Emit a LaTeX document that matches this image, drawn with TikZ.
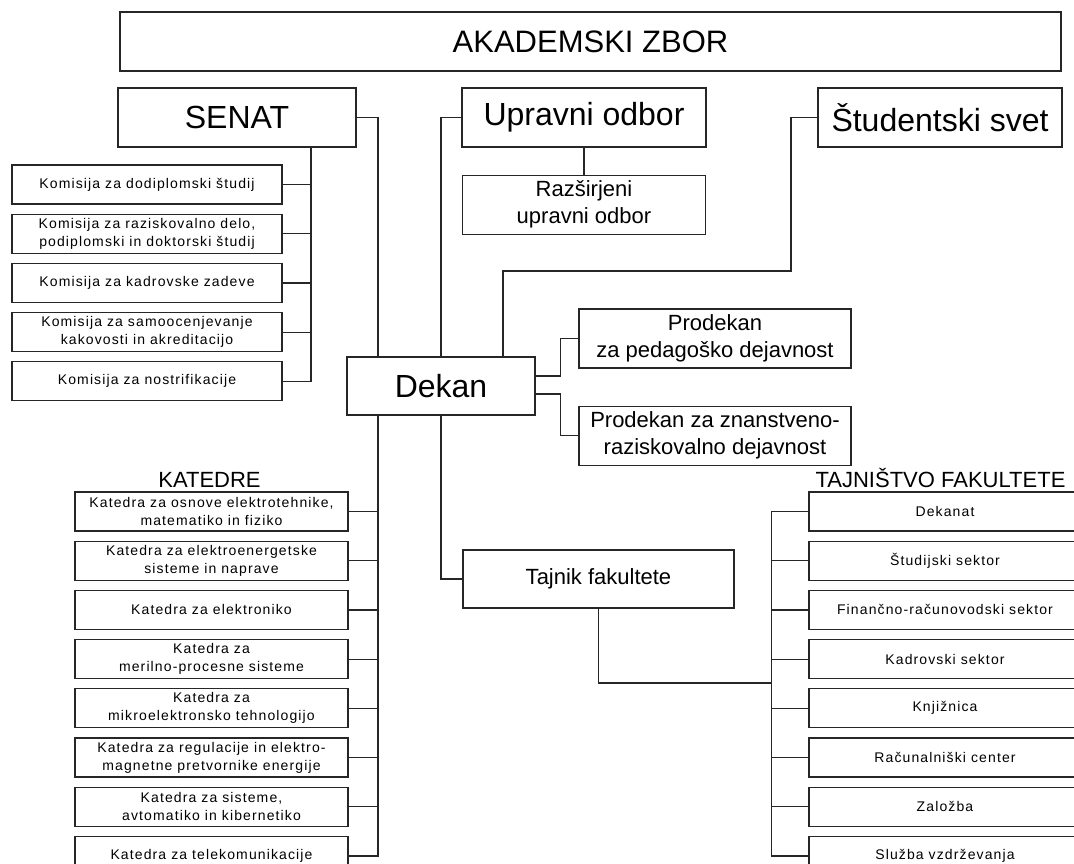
\documentclass[tikz,border=0pt]{standalone}
\usepackage{fontspec}
\setmainfont{Liberation Sans}
\newfontfamily\smallfont[LetterSpace=8]{Liberation Sans}
\usetikzlibrary{positioning}

\begin{document}
\begin{tikzpicture}[
            x = 1pt, y = -1pt, % pixel units, y pointing down
            node distance = 9pt, % gap between stacked boxes
            line width = 1.2pt, % line style
        ]
 \tikzstyle{bigbox}=[
            shape = rectangle,
            draw = black!85,
            fill = white,
            minimum height = 59pt,
            font = \fontsize{32}{38}\selectfont
        ]
 \tikzstyle{midbox}=[
            shape = rectangle,
            draw = black!85,
            fill = white,
            align = center,
            minimum width = 243pt,
            minimum height = 59pt,
            font = \fontsize{22}{27}\selectfont
        ]
 \tikzstyle{smallbox}=[
            shape = rectangle,
            draw = black!85,
            fill = white,
            align = center,
            minimum height = 39pt,
            font = \smallfont\fontsize{14}{18}\selectfont
        ]
 \tikzstyle{kombox}=[smallbox, minimum width = 270pt]
 \tikzstyle{katbox}=[smallbox, minimum width = 273pt]
 \tikzstyle{tajbox}=[smallbox, minimum width = 272pt]
 \tikzstyle{title}=[font = \fontsize{22}{26}\selectfont, anchor = base, inner sep = 0pt]
 \tikzstyle{link}=[draw = black!85, line width = 1.2pt]
\useasboundingbox (0,0) rectangle (1074,864);
\clip (0,0) rectangle (1074,864);
% top level
\node[bigbox, minimum width=941pt, font=\fontsize{31}{37}\selectfont](zbor) at (590.5,41.5){AKADEMSKI ZBOR};
\node[bigbox, minimum width=238pt](senat) at (237,117.5){SENAT};
\node[bigbox, minimum width=244pt](uo) at (584,117.5){Upravni odbor};
\node[bigbox, minimum width=244pt](ss) at (940,117.5){Študentski svet};
\node[midbox, below=27pt of uo](ruo){Razširjeni\\upravni odbor};
% senat commissions
\node[kombox](kom1) at (147,184.5){Komisija za dodiplomski študij};
\node[kombox, below=of kom1](kom2){Komisija za raziskovalno delo,\\podiplomski in doktorski študij};
\node[kombox, below=of kom2](kom3){Komisija za kadrovske zadeve};
\node[kombox, below=of kom3](kom4){Komisija za samoocenjevanje\\kakovosti in akreditacijo};
\node[kombox, below=of kom4](kom5){Komisija za nostrifikacije};
% dean and vice deans
\node[bigbox, minimum width=188pt, minimum height=58pt](dekan) at (441,386){Dekan};
\node[midbox, minimum width=272pt](pd1) at (715,338.5){Prodekan\\za pedagoško dejavnost};
\node[midbox, minimum width=272pt, below=37pt of pd1](pd2){Prodekan za znanstveno-\\raziskovalno dejavnost};
\node[midbox, minimum width=271pt, minimum height=58pt](tajnik) at (598.5,579){Tajnik fakultete};
% departments
\node[title](katedre) at (209.5,487){KATEDRE};
\node[katbox](kat1) at (211.5,511.5){Katedra za osnove elektrotehnike,\\matematiko in fiziko};
\node[katbox, below=of kat1](kat2){Katedra za elektroenergetske\\sisteme in naprave};
\node[katbox, below=of kat2](kat3){Katedra za elektroniko};
\node[katbox, below=of kat3](kat4){Katedra za\\merilno-procesne sisteme};
\node[katbox, below=of kat4](kat5){Katedra za\\mikroelektronsko tehnologijo};
\node[katbox, below=of kat5](kat6){Katedra za regulacije in elektro-\\magnetne pretvornike energije};
\node[katbox, below=of kat6](kat7){Katedra za sisteme,\\avtomatiko in kibernetiko};
\node[katbox, below=of kat7](kat8){Katedra za telekomunikacije};
% secretariat
\node[title](tajnistvo) at (940.5,487){TAJNIŠTVO FAKULTETE};
\node[tajbox](taj1) at (945,511.5){Dekanat};
\node[tajbox, below=of taj1](taj2){Študijski sektor};
\node[tajbox, below=of taj2](taj3){Finančno-računovodski sektor};
\node[tajbox, below=of taj3](taj4){Kadrovski sektor};
\node[tajbox, below=of taj4](taj5){Knjižnica};
\node[tajbox, below=of taj5](taj6){Računalniški center};
\node[tajbox, below=of taj6](taj7){Založba};
\node[tajbox, below=of taj7](taj8){Služba vzdrževanja};
\coordinate (ssbend) at (791,271);
\coordinate (tajbend) at (772,683);
% connectors
\draw[link] (uo.south) -- (ruo.north);
\draw[link] (senat.east) -| ([xshift=-63pt]dekan.north);
\draw[link] (uo.west) -| (dekan.north);
\draw[link] (ss.west) -| (ssbend) -| ([xshift=62pt]dekan.north);
\draw[link] ([xshift=74pt]senat.south) |- (kom5.east);
\draw[link] (kom1.east) -- +(29,0);
\draw[link] (kom2.east) -- +(29,0);
\draw[link] (kom3.east) -- +(29,0);
\draw[link] (kom4.east) -- +(29,0);
\draw[link] ([yshift=10pt]dekan.east) -- +(25,0) |- (pd1.west);
\draw[link] ([yshift=-8pt]dekan.east) -- +(25,0) |- (pd2.west);
\draw[link] (dekan.south) |- (tajnik.west);
\draw[link] ([xshift=-63pt]dekan.south) |- (kat8.east);
\draw[link] (kat1.east) -- +(30,0);
\draw[link] (kat2.east) -- +(30,0);
\draw[link] (kat3.east) -- +(30,0);
\draw[link] (kat4.east) -- +(30,0);
\draw[link] (kat5.east) -- +(30,0);
\draw[link] (kat6.east) -- +(30,0);
\draw[link] (kat7.east) -- +(30,0);
\draw[link] (tajnik.south) |- (tajbend);
\draw[link] (taj1.west) -- +(-37,0) |- (taj8.west);
\draw[link] (taj2.west) -- +(-37,0);
\draw[link] (taj3.west) -- +(-37,0);
\draw[link] (taj4.west) -- +(-37,0);
\draw[link] (taj5.west) -- +(-37,0);
\draw[link] (taj6.west) -- +(-37,0);
\draw[link] (taj7.west) -- +(-37,0);
\end{tikzpicture}
\end{document}
